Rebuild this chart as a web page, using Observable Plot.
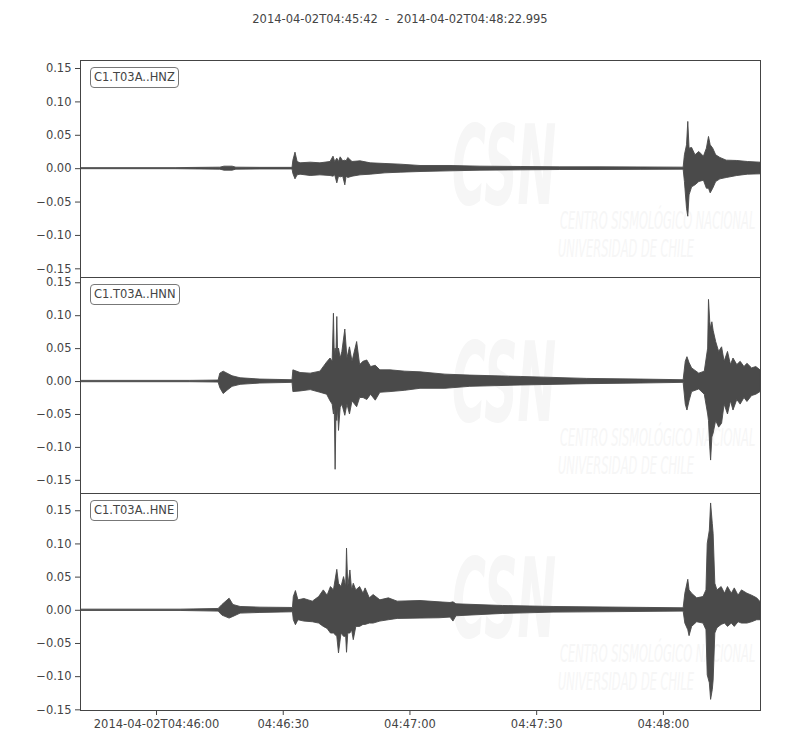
<!DOCTYPE html>
<html>
<head>
<meta charset="utf-8">
<script src="https://cdn.jsdelivr.net/npm/d3@7"></script>
<script src="https://cdn.jsdelivr.net/npm/@observablehq/plot@0.6"></script>
<style>
  html, body { margin: 0; padding: 0; background: #fff; }
  #chart { position: relative; width: 800px; height: 750px; font-family: "DejaVu Sans", sans-serif; color: #444; overflow: hidden; }
  .title { position: absolute; top: 12px; left: 0; width: 800px; text-align: center; font-size: 11.5px; white-space: pre; }
  .panel { position: absolute; left: 0; }
  .label { position: absolute; left: 90px; font-size: 11.5px; line-height: 17px; padding: 1px 3px; border: 1px solid #777; border-radius: 4px; background: #fff; white-space: nowrap; }
  .wm { position: absolute; color: #f6f6f6; white-space: nowrap; font-family: "DejaVu Sans", sans-serif; font-style: italic; transform-origin: 0 0; }
  .wm.big { font-size: 110px; line-height: 80px; font-weight: bold; transform: scaleX(0.42); }
  .wm.small { font-size: 24px; line-height: 28px; transform: scaleX(0.476); }
</style>
</head>
<body>
<div id="chart"></div>
<script>
// ---- data (seconds after 2014-04-02T04:45:42; envelope max / min per channel) ----
const titleText = "2014-04-02T04:45:42  -  2014-04-02T04:48:22.995";
const channels = ["C1.T03A..HNZ", "C1.T03A..HNN", "C1.T03A..HNE"];
const durationSec = 160.995;
const xTickLabels = ["04:46:00", "04:46:30", "04:47:00", "04:47:30", "04:48:00"];
const yTicks = [-0.15, -0.10, -0.05, 0, 0.05, 0.10, 0.15];
const yDomains = [[-0.163, 0.162], [-0.170, 0.158], [-0.151, 0.176]];
const watermarkLines = ["CSN", "CENTRO SISMOLÓGICO NACIONAL", "UNIVERSIDAD DE CHILE"];

const hnzT  = [0, 22.5, 28.4, 33.1, 34.1, 36.0, 36.9, 42.6, 50.2, 50.4, 50.9, 51.4, 52.1, 54.5, 56.8, 59.2, 59.9, 60.3, 60.8, 61.2, 61.6, 62.2, 62.7, 63.0, 63.4, 64.4, 66.3, 68.7, 72.2, 75.8, 80.5, 87.6, 94.7, 104.2, 113.6, 123.1, 132.6, 142.8, 143.1, 143.6, 143.9, 144.2, 144.8, 145.6, 146.5, 147.6, 148.3, 148.8, 149.2, 149.8, 150.5, 151.5, 153.0, 155.5, 158.0, 161.0];
const hnzHi = [0.0008, 0.0008, 0.0012, 0.0015, 0.003, 0.003, 0.0015, 0.0012, 0.0012, 0.012, 0.024, 0.010, 0.008, 0.009, 0.008, 0.010, 0.018, 0.010, 0.015, 0.010, 0.017, 0.011, 0.012, 0.011, 0.016, 0.010, 0.011, 0.008, 0.007, 0.006, 0.004, 0.004, 0.003, 0.0025, 0.002, 0.002, 0.0018, 0.0015, 0.020, 0.035, 0.070, 0.030, 0.031, 0.020, 0.025, 0.018, 0.030, 0.0475, 0.035, 0.030, 0.020, 0.016, 0.012, 0.0115, 0.010, 0.009];
const hnzLo = [-0.0008, -0.0008, -0.0012, -0.0015, -0.003, -0.003, -0.0015, -0.0012, -0.0012, -0.008, -0.016, -0.010, -0.009, -0.011, -0.010, -0.011, -0.012, -0.010, -0.022, -0.012, -0.013, -0.012, -0.025, -0.012, -0.014, -0.012, -0.010, -0.009, -0.007, -0.006, -0.005, -0.004, -0.003, -0.0025, -0.002, -0.002, -0.0018, -0.0015, -0.020, -0.060, -0.072, -0.040, -0.028, -0.025, -0.020, -0.018, -0.030, -0.030, -0.037, -0.030, -0.020, -0.016, -0.014, -0.011, -0.009, -0.0085];

const hnnT  = [0, 26.0, 32.7, 33.1, 33.9, 34.8, 36.0, 37.9, 42.6, 50.2, 50.4, 52.1, 54.5, 56.8, 58.4, 59.2, 59.7, 60.0, 60.2, 60.4, 60.6, 60.8, 61.0, 61.2, 61.6, 62.0, 62.7, 63.2, 63.8, 64.4, 65.5, 66.2, 67.0, 67.9, 68.8, 69.9, 71.0, 73.4, 76.9, 80.5, 86.4, 92.3, 104.2, 120.0, 132.6, 142.8, 143.3, 143.7, 144.2, 144.8, 146.5, 147.8, 148.6, 148.8, 149.1, 149.3, 149.6, 149.9, 150.5, 151.2, 151.9, 152.5, 153.3, 154.0, 154.6, 155.5, 156.3, 157.2, 157.9, 159.0, 160.0, 161.0];
const hnnHi = [0.001, 0.001, 0.0015, 0.012, 0.015, 0.012, 0.008, 0.005, 0.003, 0.002, 0.017, 0.013, 0.012, 0.015, 0.029, 0.035, 0.030, 0.103, 0.040, 0.050, 0.040, 0.098, 0.040, 0.050, 0.035, 0.045, 0.079, 0.035, 0.052, 0.030, 0.060, 0.025, 0.030, 0.032, 0.022, 0.024, 0.017, 0.017, 0.015, 0.014, 0.0105, 0.009, 0.007, 0.004, 0.003, 0.002, 0.030, 0.037, 0.028, 0.020, 0.012, 0.015, 0.050, 0.124, 0.090, 0.080, 0.090, 0.077, 0.060, 0.045, 0.052, 0.030, 0.045, 0.025, 0.035, 0.025, 0.030, 0.022, 0.027, 0.020, 0.022, 0.017];
const hnnLo = [-0.001, -0.001, -0.0015, -0.010, -0.019, -0.014, -0.008, -0.005, -0.003, -0.002, -0.016, -0.015, -0.013, -0.017, -0.020, -0.030, -0.035, -0.050, -0.040, -0.134, -0.050, -0.060, -0.040, -0.075, -0.040, -0.035, -0.052, -0.035, -0.050, -0.030, -0.039, -0.025, -0.025, -0.028, -0.020, -0.029, -0.017, -0.016, -0.014, -0.011, -0.011, -0.008, -0.006, -0.004, -0.003, -0.002, -0.035, -0.044, -0.030, -0.016, -0.012, -0.020, -0.050, -0.060, -0.100, -0.120, -0.085, -0.079, -0.060, -0.070, -0.064, -0.035, -0.050, -0.030, -0.044, -0.028, -0.035, -0.025, -0.031, -0.022, -0.020, -0.016];

const hneT  = [0, 23.7, 32.7, 33.6, 35.3, 36.2, 37.9, 42.6, 50.3, 50.5, 51.0, 51.6, 53.0, 55.0, 56.5, 57.6, 58.5, 59.3, 60.0, 60.8, 61.2, 61.8, 62.4, 62.9, 63.1, 63.4, 63.9, 64.3, 64.7, 65.3, 66.2, 67.0, 67.5, 68.5, 69.4, 71.0, 73.0, 75.1, 80.5, 85.0, 87.6, 88.3, 89.0, 100.0, 112.0, 142.8, 143.2, 143.9, 144.2, 144.8, 146.0, 147.5, 148.2, 148.5, 149.0, 149.3, 149.7, 149.9, 150.3, 150.8, 151.8, 152.6, 153.3, 154.2, 154.9, 155.8, 156.6, 157.9, 159.0, 160.2, 161.0];
const hneHi = [0.001, 0.001, 0.002, 0.008, 0.0175, 0.008, 0.005, 0.004, 0.0035, 0.020, 0.029, 0.015, 0.017, 0.013, 0.020, 0.030, 0.022, 0.035, 0.030, 0.061, 0.040, 0.035, 0.050, 0.035, 0.093, 0.035, 0.060, 0.030, 0.040, 0.030, 0.035, 0.025, 0.033, 0.018, 0.023, 0.015, 0.018, 0.013, 0.014, 0.012, 0.011, 0.012, 0.009, 0.0065, 0.005, 0.003, 0.025, 0.046, 0.030, 0.025, 0.018, 0.020, 0.030, 0.100, 0.120, 0.161, 0.130, 0.115, 0.040, 0.030, 0.035, 0.025, 0.035, 0.025, 0.033, 0.022, 0.030, 0.025, 0.022, 0.018, 0.0125];
const hneLo = [-0.001, -0.001, -0.002, -0.008, -0.0125, -0.010, -0.005, -0.004, -0.003, -0.015, -0.0225, -0.015, -0.017, -0.018, -0.020, -0.025, -0.028, -0.035, -0.035, -0.040, -0.065, -0.035, -0.040, -0.040, -0.064, -0.035, -0.035, -0.030, -0.045, -0.025, -0.025, -0.022, -0.022, -0.020, -0.020, -0.017, -0.015, -0.013, -0.0125, -0.012, -0.011, -0.017, -0.009, -0.0055, -0.0035, -0.002, -0.020, -0.030, -0.039, -0.025, -0.018, -0.020, -0.030, -0.098, -0.110, -0.135, -0.120, -0.106, -0.035, -0.027, -0.022, -0.020, -0.025, -0.020, -0.025, -0.018, -0.020, -0.020, -0.018, -0.015, -0.015];

// ---- build ----
const startMs = Date.UTC(2014, 3, 2, 4, 45, 42);
const toDate = s => new Date(startMs + s * 1000);
const xTicks = xTickLabels.map(l => new Date(`2014-04-02T${l}Z`));
const series = [[hnzT, hnzHi, hnzLo], [hnnT, hnnHi, hnnLo], [hneT, hneHi, hneLo]];
const panelTops = [60, 277, 493];
const panelBottoms = [277, 493, 710];
const pad = 5;
const chart = document.getElementById("chart");

const title = document.createElement("div");
title.className = "title";
title.textContent = titleText;
chart.appendChild(title);

const fmtY = d => (d === 0 ? "0.00" : d.toFixed(2).replace("-", "\u2212"));
const fmtX = (d, i) => {
  const iso = d.toISOString().slice(0, 19);
  return i === 0 ? iso : iso.slice(11);
};

function addWm(cls, text, left, top) {
  const el = document.createElement("div");
  el.className = "wm " + cls;
  el.textContent = text;
  el.style.left = left + "px";
  el.style.top = top + "px";
  chart.appendChild(el);
}

series.forEach(([t, hi, lo], k) => {
  const top = panelTops[k], innerH = panelBottoms[k] - top;
  const last = k === series.length - 1;
  // faint watermark
  addWm("big", watermarkLines[0], 452, top + 66);
  addWm("small", watermarkLines[1], 560, top + 147);
  addWm("small", watermarkLines[2], 558, top + 175);

  const rows = t.map((s, i) => ({time: toDate(s), hi: hi[i], lo: lo[i]}));
  const plot = Plot.plot({
    width: 800,
    height: innerH + pad + (last ? 40 : pad),
    marginLeft: 80,
    marginRight: 40,
    marginTop: pad,
    marginBottom: last ? 40 : pad,
    style: {fontFamily: "DejaVu Sans", fontSize: "11.5px", color: "#444", background: "transparent", overflow: "visible"},
    x: {type: "utc", domain: [toDate(0), toDate(durationSec)], ticks: xTicks, tickFormat: fmtX, tickSize: 5, tickPadding: 4, label: null, axis: last ? "bottom" : null},
    y: {domain: yDomains[k], ticks: yTicks, tickFormat: fmtY, tickSize: 5, tickPadding: 4, label: null},
    marks: [
      Plot.areaY(rows, {x: "time", y1: "lo", y2: "hi", fill: "#4a4a4a", stroke: "#4a4a4a", strokeWidth: 0.9, curve: "linear", clip: true}),
      Plot.frame({stroke: "#444", strokeWidth: 1})
    ]
  });
  plot.classList.add("panel");
  plot.style.top = (top - pad) + "px";
  chart.appendChild(plot);

  const lab = document.createElement("div");
  lab.className = "label";
  lab.textContent = channels[k];
  lab.style.top = (top + 7) + "px";
  chart.appendChild(lab);
});
</script>
</body>
</html>
